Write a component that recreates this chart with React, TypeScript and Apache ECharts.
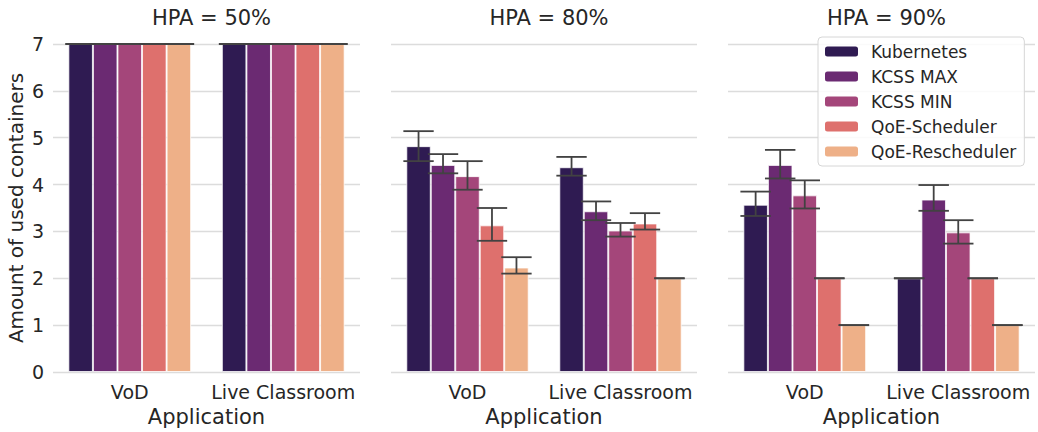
import React, { useEffect, useRef } from "react";
import * as echarts from "echarts";

// Applications on the x axis of every panel
const categories = ["VoD", "Live Classroom"];
// Schedulers (hue)
const schedulers = ["Kubernetes", "KCSS MAX", "KCSS MIN", "QoE-Scheduler", "QoE-Rescheduler"];
const colors = ["#2f1b52", "#6b2a72", "#a4467a", "#de706d", "#eeb088"];
const panelTitles = ["HPA = 50%", "HPA = 80%", "HPA = 90%"];
const yTicks = [0, 1, 2, 3, 4, 5, 6, 7];

// Rows: scheduler, columns: [VoD, Live Classroom]
const hpa50Mean = [[7, 7], [7, 7], [7, 7], [7, 7], [7, 7]];
const hpa50Low = [[7, 7], [7, 7], [7, 7], [7, 7], [7, 7]];
const hpa50High = [[7, 7], [7, 7], [7, 7], [7, 7], [7, 7]];

const hpa80Mean = [[4.82, 4.37], [4.42, 3.43], [4.18, 3.02], [3.13, 3.17], [2.23, 2.0]];
const hpa80Low = [[4.5, 4.19], [4.24, 3.24], [3.89, 2.89], [2.8, 3.04], [2.1, 2.0]];
const hpa80High = [[5.14, 4.59], [4.65, 3.64], [4.5, 3.18], [3.5, 3.39], [2.45, 2.0]];

const hpa90Mean = [[3.57, 2.0], [4.42, 3.68], [3.77, 2.98], [2.0, 2.0], [1.0, 1.0]];
const hpa90Low = [[3.33, 2.0], [4.13, 3.44], [3.49, 2.74], [2.0, 2.0], [1.0, 1.0]];
const hpa90High = [[3.85, 2.0], [4.74, 3.99], [4.09, 3.24], [2.0, 2.0], [1.0, 1.0]];

const panels = [
  { mean: hpa50Mean, low: hpa50Low, high: hpa50High },
  { mean: hpa80Mean, low: hpa80Low, high: hpa80High },
  { mean: hpa90Mean, low: hpa90Low, high: hpa90High },
];

const FONT = "DejaVu Sans";
const TEXT = "#262626";

// Layout of the three facets
const grids = [
  { left: 53, width: 307 },
  { left: 391, width: 306 },
  { left: 728, width: 307 },
];
const GRID_TOP = 44;
const GRID_H = 333;

function errorBarRenderer(params: any, api: any) {
  const cat = api.value(0);
  const low = api.value(1);
  const high = api.value(2);
  const s = api.value(3);
  const catW = api.size([1, 0])[0];
  const barW = (catW * 0.8) / schedulers.length;
  const pLow = api.coord([cat, low]);
  const pHigh = api.coord([cat, high]);
  const cx = pLow[0] + (s - (schedulers.length - 1) / 2) * barW;
  const half = barW * 0.62;
  const style = { stroke: "#424242", lineWidth: 1.8 };
  return {
    type: "group",
    children: [
      { type: "line", shape: { x1: cx, y1: pLow[1], x2: cx, y2: pHigh[1] }, style },
      { type: "line", shape: { x1: cx - half, y1: pHigh[1], x2: cx + half, y2: pHigh[1] }, style },
      { type: "line", shape: { x1: cx - half, y1: pLow[1], x2: cx + half, y2: pLow[1] }, style },
    ],
  };
}

export default function App() {
  const ref = useRef<HTMLDivElement>(null);

  useEffect(() => {
    if (!ref.current) return;
    const chart = echarts.init(ref.current, undefined, { renderer: "svg" });

    const series: any[] = [];
    panels.forEach((p, gi) => {
      schedulers.forEach((name, si) => {
        series.push({
          type: "bar",
          name,
          xAxisIndex: gi,
          yAxisIndex: gi,
          data: p.mean[si],
          barGap: "0%",
          barCategoryGap: "20%",
          itemStyle: { color: colors[si], borderColor: "rgba(255,255,255,0.75)", borderWidth: 1 },
          z: 2,
        });
      });
      const eb: number[][] = [];
      schedulers.forEach((_, si) => {
        categories.forEach((_, ci) => {
          eb.push([ci, p.low[si][ci], p.high[si][ci], si]);
        });
      });
      series.push({
        type: "custom",
        xAxisIndex: gi,
        yAxisIndex: gi,
        renderItem: errorBarRenderer,
        encode: { x: 0, y: [1, 2] },
        data: eb,
        z: 5,
        silent: true,
      });
    });

    chart.setOption({
      animation: false,
      backgroundColor: "#ffffff",
      textStyle: { fontFamily: FONT },
      title: panelTitles.map((t, i) => ({
        text: t,
        left: grids[i].left + grids[i].width / 2,
        top: 2,
        textAlign: "center",
        textStyle: { fontSize: 21, fontWeight: "normal", color: TEXT, fontFamily: FONT },
      })),
      legend: {
        data: schedulers,
        orient: "vertical",
        left: 818,
        top: 37,
        itemWidth: 33,
        itemHeight: 10,
        itemGap: 8,
        padding: [6, 8, 6, 7],
        backgroundColor: "rgba(255,255,255,0.85)",
        borderColor: "#d6d6d6",
        borderWidth: 1,
        borderRadius: 4,
        itemStyle: { borderWidth: 0 },
        textStyle: { fontSize: 17, color: TEXT, fontFamily: FONT, padding: [0, 0, 0, 8] },
        selectedMode: false,
      },
      grid: grids.map((g) => ({ left: g.left, width: g.width, top: GRID_TOP, height: GRID_H })),
      xAxis: grids.map((_, i) => ({
        type: "category",
        gridIndex: i,
        data: categories,
        axisLine: { show: false },
        axisTick: { show: false },
        axisLabel: { fontSize: 19, color: TEXT, margin: 10, fontFamily: FONT, interval: 0 },
        name: "Application",
        nameLocation: "middle",
        nameGap: 34,
        nameTextStyle: { fontSize: 21, color: TEXT, fontFamily: FONT },
      })),
      yAxis: grids.map((_, i) => ({
        type: "value",
        gridIndex: i,
        min: yTicks[0],
        max: yTicks[yTicks.length - 1],
        interval: 1,
        axisLine: { show: false },
        axisTick: { show: false },
        splitLine: { show: true, lineStyle: { color: "#dcdcdc", width: 1.3 } },
        axisLabel: { show: i === 0, fontSize: 19, color: TEXT, margin: 9, fontFamily: FONT },
        name: i === 0 ? "Amount of used containers" : "",
        nameLocation: "middle",
        nameGap: 27,
        nameRotate: 90,
        nameTextStyle: { fontSize: 20, color: TEXT, fontFamily: FONT },
      })),
      series,
    });

    return () => chart.dispose();
  }, []);

  return (
    <div
      ref={ref}
      style={{ position: "absolute", left: 0, top: 0, width: 1038, height: 432, background: "#fff" }}
    />
  );
}
